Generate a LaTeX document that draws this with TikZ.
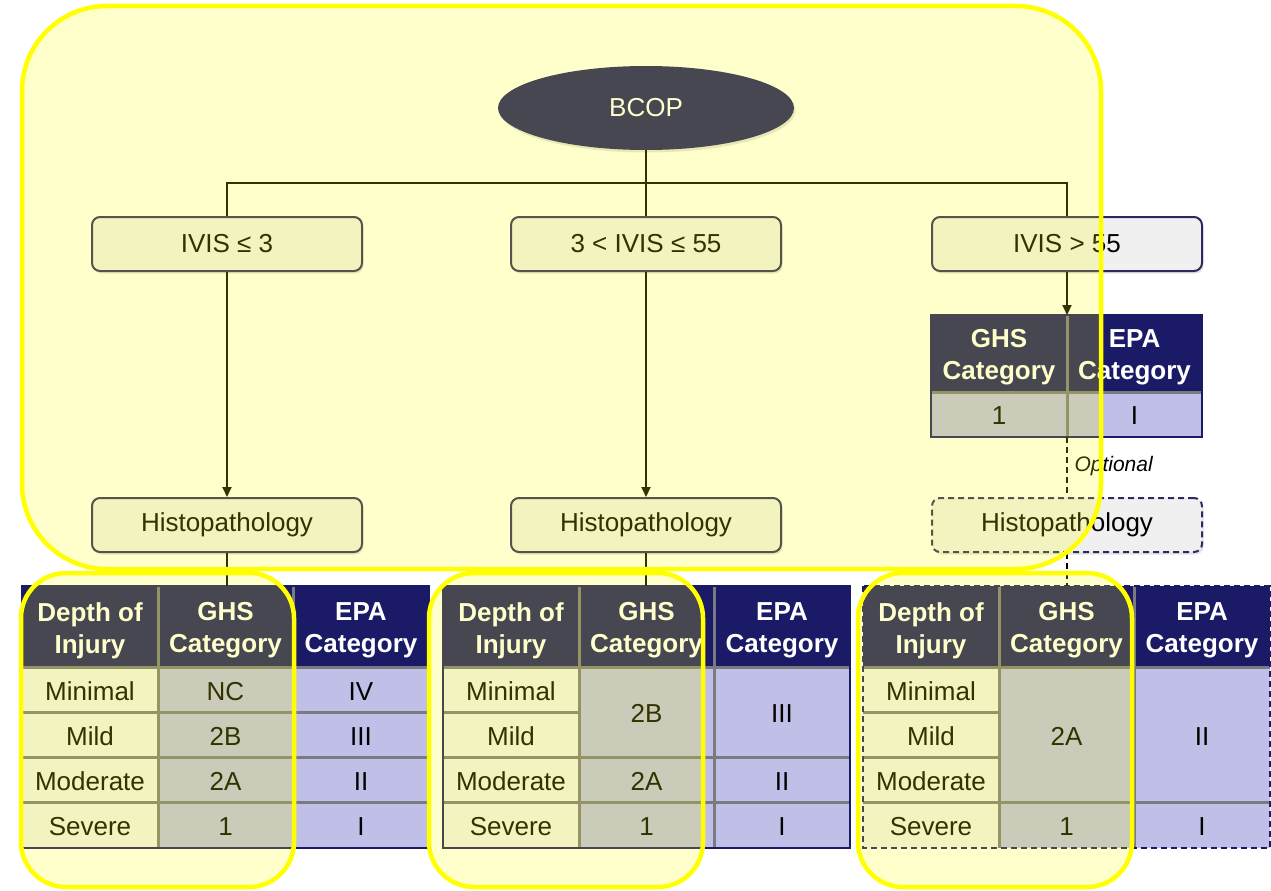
\documentclass[tikz,border=0pt]{standalone}
\usepackage{fontspec}
\setmainfont{Liberation Sans}
\usetikzlibrary{shapes.geometric,shadows,arrows.meta}

\definecolor{navy}{HTML}{1A1A66}
\definecolor{lav}{HTML}{BFBFE8}
\definecolor{pale}{HTML}{F0F0F0}
\definecolor{gridgray}{HTML}{7A7A80}
\definecolor{boxline}{HTML}{2A2A60}
\definecolor{hilite}{HTML}{FFFF00}

\tikzset{
  every node/.style={font=\fontsize{26}{32}\selectfont},
  softshadow/.style={drop shadow={shadow xshift=1.5pt, shadow yshift=-2.5pt, opacity=0.22}},
  decision/.style={draw=boxline, line width=2pt, fill=pale, rounded corners=8pt,
    minimum width=270pt, minimum height=54pt, inner sep=0pt, softshadow},
  rootnode/.style={ellipse, fill=navy, text=white, minimum width=296pt,
    minimum height=84pt, inner sep=0pt, softshadow},
  conn/.style={draw=black, line width=2pt},
  arrowconn/.style={conn, -{Triangle[length=10pt,width=9pt]}},
  optconn/.style={conn, dash pattern=on 6pt off 4pt},
  headfill/.style={fill=navy},
  headtext/.style={text=white, inner sep=0pt, align=center, yshift=-4pt,
    font=\fontsize{26}{32}\selectfont\bfseries},
  depthfill/.style={fill=pale},
  valfill/.style={fill=lav},
  celltext/.style={text=black, inner sep=0pt, yshift=-1.5pt},
  gridline/.style={draw=gridgray, line width=3pt},
  tableedge/.style={draw=navy, line width=2pt},
  hl/.style={draw=hilite, fill=hilite, fill opacity=0.2, line width=4.5pt},
}

% a table cell: background over (x1,y1)-(x2,y2) and its centred label
\newcommand\tcell[8]{%
  \fill[#1] (#4,#5) rectangle (#6,#7);
  \node[#2] (#3) at ({(#4+#6)/2},{(#5+#7)/2}) {#8};
}

% header row and depth-of-injury column of one classification table
\newcommand\tablebase[2]{%
  \tcell{headfill}{headtext}{#1d}{#2}{586}{#2+136}{667}{Depth of\\Injury}
  \tcell{headfill}{headtext}{#1g}{#2+136}{586}{#2+271}{667}{GHS\\Category}
  \tcell{headfill}{headtext}{#1e}{#2+271}{586}{#2+407}{667}{EPA\\Category}
  \tcell{depthfill}{celltext}{#1r1}{#2}{667}{#2+136}{712.25}{Minimal}
  \tcell{depthfill}{celltext}{#1r2}{#2}{712.25}{#2+136}{757.5}{Mild}
  \tcell{depthfill}{celltext}{#1r3}{#2}{757.5}{#2+136}{802.75}{Moderate}
  \tcell{depthfill}{celltext}{#1r4}{#2}{802.75}{#2+136}{848}{Severe}
  \coordinate (#1top) at ({#2+203.5},586);
}
% common grid lines of one table
\newcommand\tablegrid[1]{%
  \draw[gridline] ({#1+136},586) -- ({#1+136},848);
  \draw[gridline] ({#1+271},586) -- ({#1+271},848);
  \draw[gridline] (#1,667) -- ({#1+407},667);
  \draw[gridline] (#1,802.75) -- ({#1+407},802.75);
}

\begin{document}
\begin{tikzpicture}[x=1pt,y=-1pt]
\useasboundingbox (0,0) rectangle (1271,891);
\fill[white] (0,0) rectangle (1271,891);

% tree of decisions
\node[rootnode] (bcop) at (646,108) {BCOP};
\node[decision] (b1) at (227,244) {IVIS ≤ 3};
\node[decision] (b2) at (646,244) {3 < IVIS ≤ 55};
\node[decision] (b3) at (1067,244) {IVIS > 55};
\node[decision] (h1) at (227,525) {Histopathology};
\node[decision] (h2) at (646,525) {Histopathology};
\node[decision, dash pattern=on 6pt off 4pt] (h3) at (1067,525) {Histopathology};
\coordinate (split) at (646,183);

\draw[conn] (bcop.south) -- (split);
\draw[conn] (split) -| (b1.north);
\draw[conn] (split) -- (b2.north);
\draw[conn] (split) -| (b3.north);
\draw[arrowconn] (b1.south) -- (h1.north);
\draw[arrowconn] (b2.south) -- (h2.north);

% direct classification for high IVIS
\tcell{headfill}{headtext}{sg}{931}{315}{1067}{392}{GHS\\Category}
\tcell{headfill}{headtext}{se}{1067}{315}{1202}{392}{EPA\\Category}
\tcell{valfill}{celltext}{sgv}{931}{392}{1067}{437}{1}
\tcell{valfill}{celltext}{sev}{1067}{392}{1202}{437}{I}
\coordinate (stop) at (1067,315);
\coordinate (sbottom) at (1067,437);
\draw[gridline] (stop) -- (sbottom);
\draw[gridline] (931,392) -- (1202,392);
\draw[tableedge] (931,315) rectangle (1202,437);
\draw[arrowconn] (b3.south) -- (stop);
\draw[optconn] (sbottom) -- (h3.north);
\node[anchor=west, font=\fontsize{21}{24}\selectfont\itshape] (opt) at (1071,466) {Optional};

% table 1
\tablebase{ta}{22}
\tcell{valfill}{celltext}{tag1}{158}{667}{293}{712.25}{NC}
\tcell{valfill}{celltext}{tag2}{158}{712.25}{293}{757.5}{2B}
\tcell{valfill}{celltext}{tag3}{158}{757.5}{293}{802.75}{2A}
\tcell{valfill}{celltext}{tag4}{158}{802.75}{293}{848}{1}
\tcell{valfill}{celltext}{tae1}{293}{667}{429}{712.25}{IV}
\tcell{valfill}{celltext}{tae2}{293}{712.25}{429}{757.5}{III}
\tcell{valfill}{celltext}{tae3}{293}{757.5}{429}{802.75}{II}
\tcell{valfill}{celltext}{tae4}{293}{802.75}{429}{848}{I}
\tablegrid{22}
\draw[gridline] (22,712.25) -- (429,712.25);
\draw[gridline] (22,757.5) -- (429,757.5);
\draw[tableedge] (22,586) rectangle (429,848);

% table 2
\tablebase{tb}{443}
\tcell{valfill}{celltext}{tbg1}{579}{667}{714}{757.5}{2B}
\tcell{valfill}{celltext}{tbg3}{579}{757.5}{714}{802.75}{2A}
\tcell{valfill}{celltext}{tbg4}{579}{802.75}{714}{848}{1}
\tcell{valfill}{celltext}{tbe1}{714}{667}{850}{757.5}{III}
\tcell{valfill}{celltext}{tbe3}{714}{757.5}{850}{802.75}{II}
\tcell{valfill}{celltext}{tbe4}{714}{802.75}{850}{848}{I}
\tablegrid{443}
\draw[gridline] (443,712.25) -- (579,712.25);
\draw[gridline] (443,757.5) -- (850,757.5);
\draw[tableedge] (443,586) rectangle (850,848);

% table 3
\tablebase{tc}{863}
\tcell{valfill}{celltext}{tcg1}{999}{667}{1134}{802.75}{2A}
\tcell{valfill}{celltext}{tcg4}{999}{802.75}{1134}{848}{1}
\tcell{valfill}{celltext}{tce1}{1134}{667}{1270}{802.75}{II}
\tcell{valfill}{celltext}{tce4}{1134}{802.75}{1270}{848}{I}
\tablegrid{863}
\draw[gridline] (863,712.25) -- (999,712.25);
\draw[gridline] (863,757.5) -- (999,757.5);
\draw[tableedge, dash pattern=on 6pt off 4pt] (863,586) rectangle (1269.5,848);

\draw[conn] (h1.south) -- (h1.south |- tatop);
\draw[conn] (h2.south) -- (h2.south |- tbtop);
\draw[optconn] (h3.south) -- (h3.south |- tctop);

% highlighted regions
\draw[hl, rounded corners=85pt] (22,6) rectangle (1101,569);
\draw[hl, rounded corners=45pt] (21,573) rectangle (294,887);
\draw[hl, rounded corners=45pt] (429,573) rectangle (703,887);
\draw[hl, rounded corners=45pt] (858,573) rectangle (1132,887);
\end{tikzpicture}
\end{document}
